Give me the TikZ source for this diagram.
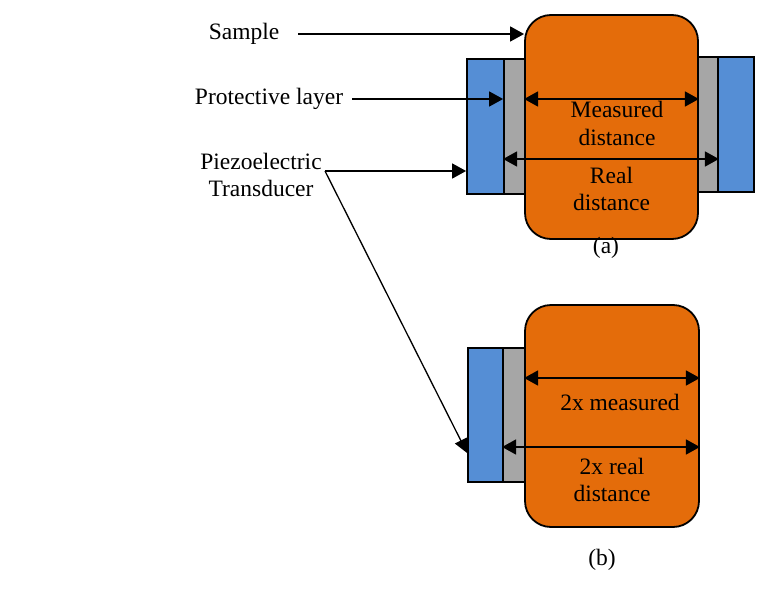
\documentclass[tikz,border=0pt]{standalone}
\usepackage{fontspec}
\setmainfont{Liberation Serif}
\usetikzlibrary{arrows.meta}
\definecolor{orng}{RGB}{228,108,10}
\definecolor{blu}{RGB}{85,142,213}
\definecolor{gry}{RGB}{166,166,166}
\begin{document}
\begin{tikzpicture}[x=1pt,y=-1pt,
  lbl/.style={font=\fontsize{23.5}{27.5}\selectfont, inner sep=0pt, align=center},
  piezo/.style={draw=black, line width=1.8pt, fill=blu, inner sep=0pt, minimum width=#1, minimum height=135pt},
  prot/.style={draw=black, line width=1.8pt, fill=gry, inner sep=0pt, minimum width=#1, minimum height=135pt},
  samp/.style={draw=black, line width=1.8pt, fill=orng, rounded corners=26pt, inner sep=0pt, minimum width=173pt},
  arr/.style={line width=1.6pt, -{Triangle[length=14pt,width=15pt]}},
  darr/.style={line width=1.6pt, {Triangle[length=14pt,width=15pt]}-{Triangle[length=14pt,width=15pt]}},
  thin/.style={line width=1.3pt, -{Triangle[length=14pt,width=13pt]}}]
\useasboundingbox (0,0) rectangle (771,594);
% (a)
\node[piezo=37pt] (blA) at (485.5,126.5) {};
\node[prot=21pt] (grA) at (514.5,126.5) {};
\node[prot=21pt] (grA2) at (707.5,124.5) {};
\node[piezo=36pt] (blA2) at (736,124.5) {};
\node[samp, minimum height=224pt] (orA) at (611.5,127) {};
% (b)
\node[piezo=35pt, minimum height=134pt] (blB) at (485.5,415) {};
\node[prot=22pt, minimum height=134pt] (grB) at (514,415) {};
\node[samp, minimum width=174pt, minimum height=222pt] (orB) at (612,416) {};
% labels
\node[lbl] (smp) at (244,34) {Sample};
\node[lbl] (prl) at (269,99) {Protective layer};
\node[lbl] (pzt) at (261,175) {Piezoelectric\\Transducer};
\coordinate (pz) at (325,171);
\coordinate (ymA) at (0,99);
\coordinate (yrA) at (0,159);
\coordinate (ymB) at (0,378);
\coordinate (yrB) at (0,447);
\coordinate (yb) at (0,453);
\node[lbl] (msd) at (617,123.5) {Measured\\distance};
\node[lbl] (rld) at (611.5,189) {Real\\distance};
\node[lbl] (la) at (606,248) {(a)};
\node[lbl] (mb) at (620,402) {2x measured};
\node[lbl] (rb) at (612,480) {2x real\\distance};
\node[lbl] (lb) at (602,560) {(b)};
% arrows
\draw[arr] ([xshift=19pt]smp.east) -- (orA.west |- smp);
\draw[arr] ([xshift=9pt]prl.east) -- (grA.west |- prl);
\draw[arr] (pz) -- (blA.west |- pz);
\draw[thin] (pz) -- (blB.west |- yb);
\draw[darr] (orA.west |- ymA) -- (orA.east |- ymA);
\draw[darr] (grA.west |- yrA) -- (grA2.east |- yrA);
\draw[darr] (orB.west |- ymB) -- (orB.east |- ymB);
\draw[darr] (grB.west |- yrB) -- (orB.east |- yrB);
\end{tikzpicture}
\end{document}
